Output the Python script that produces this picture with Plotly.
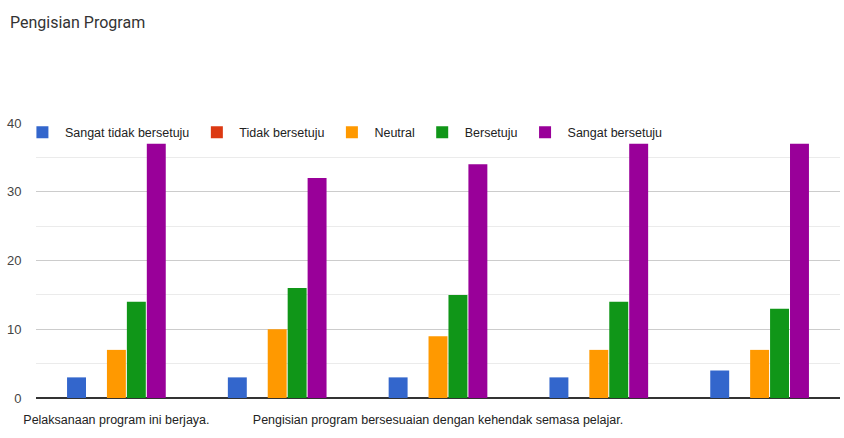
import plotly.graph_objects as go

categories = [
    "Pelaksanaan program ini berjaya.",
    "Soalan 2",
    "Pengisian program bersesuaian dengan kehendak semasa pelajar.",
    "Soalan 4",
    "Soalan 5",
]
shown_labels = [categories[0], categories[2]]

series_names = ["Sangat tidak bersetuju", "Tidak bersetuju", "Neutral", "Bersetuju", "Sangat bersetuju"]
sangat_tidak_bersetuju = [3, 3, 3, 3, 4]
tidak_bersetuju = [0, 0, 0, 0, 0]
neutral = [7, 10, 9, 7, 7]
bersetuju = [14, 16, 15, 14, 13]
sangat_bersetuju = [37, 32, 34, 37, 37]
series_values = [sangat_tidak_bersetuju, tidak_bersetuju, neutral, bersetuju, sangat_bersetuju]
colors = ["#3366cc", "#dc3912", "#ff9900", "#109618", "#990099"]

y_ticks = [0, 10, 20, 30, 40]

fig = go.Figure()
for name, vals, col in zip(series_names, series_values, colors):
    fig.add_trace(go.Bar(
        x=categories, y=vals, name=name,
        marker=dict(color=col, line=dict(width=0)),
    ))

fig.update_layout(
    width=844, height=438,
    margin=dict(l=36, r=4, t=123, b=40, autoexpand=False),
    paper_bgcolor="white", plot_bgcolor="white",
    barmode="group", bargap=0.38, bargroupgap=0.05,
    title=dict(text="Pengisian Program", x=0, xref="container", xanchor="left",
               y=1, yref="container", yanchor="top", pad=dict(l=10, t=17),
               font=dict(family="Roboto", size=16, color="#333333")),
    legend=dict(orientation="h", x=-0.02, xanchor="left", y=1.02, yanchor="top",
                bgcolor="rgba(0,0,0,0)", font=dict(family="Liberation Sans", size=12.5, color="#222222"),
                itemwidth=35, traceorder="normal"),
    font=dict(family="Liberation Sans", size=13, color="#444444"),
    showlegend=True,
)
fig.update_xaxes(
    tickmode="array", tickvals=shown_labels, ticktext=shown_labels, automargin=False,
    showgrid=False, showline=False, ticks="outside", ticklen=10, tickcolor="white",
    tickfont=dict(family="Liberation Sans", size=12.5, color="#222222"),
)
fig.update_yaxes(
    range=[0, 40], tickvals=y_ticks, showgrid=True, gridcolor="#cccccc", gridwidth=1,
    automargin=False,
    minor=dict(dtick=5, showgrid=True, gridcolor="#ebebeb", gridwidth=1),
    zeroline=True, zerolinecolor="#333333", zerolinewidth=2,
    ticks="outside", ticklen=11, tickcolor="white",
    tickfont=dict(family="Liberation Sans", size=13, color="#444444"),
)
fig.write_html("out.html", config={"displayModeBar": False},
               post_script="document.body.style.margin='0';")
